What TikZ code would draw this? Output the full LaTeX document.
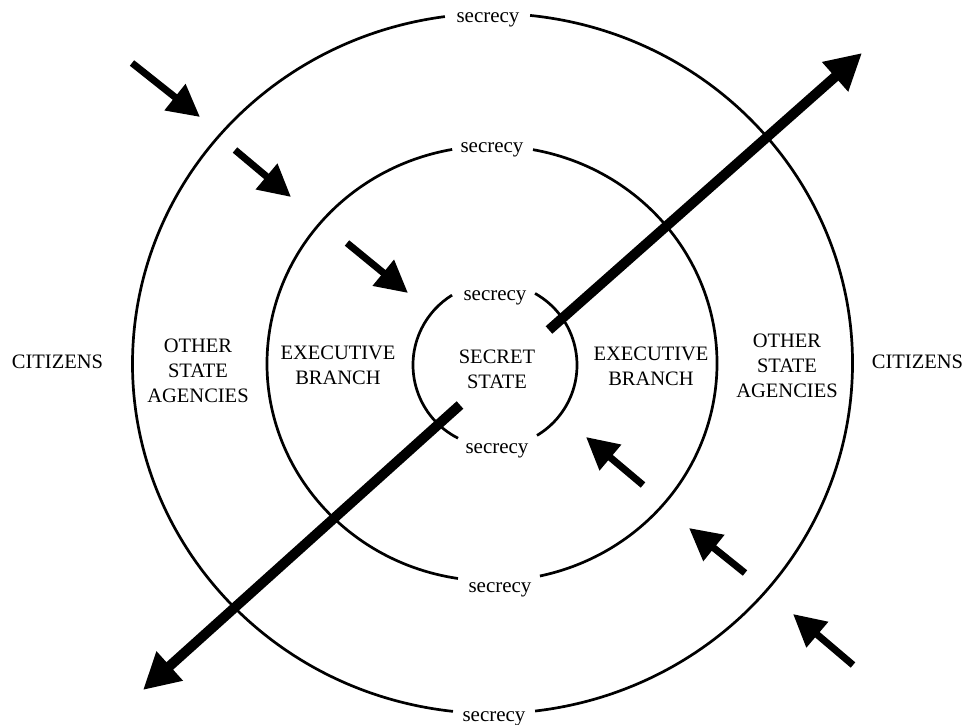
\documentclass[tikz,border=0pt]{standalone}
\usepackage{fontspec}
\setmainfont{Liberation Serif}
\usetikzlibrary{arrows.meta}
\begin{document}
\begin{tikzpicture}[x=1pt,y=-1pt,
  ring/.style={line width=2.7pt},
  lbl/.style={font=\fontsize{20.5}{25}\selectfont, align=center, inner sep=0pt},
  sec/.style={font=\fontsize{21}{25}\selectfont, inner sep=0pt, anchor=base},
  bigarrow/.style={line width=10pt, -{Triangle[length=36pt,width=37pt]}},
  smallarrow/.style={line width=7pt, -{Triangle[length=32pt,width=32pt]}}]
\useasboundingbox (0,0) rectangle (970,725);
\fill[white] (0,0) rectangle (970,725);

% centres of the three rings
\coordinate (Co) at (492.5,363.5);
\coordinate (Cm) at (492,363.5);
\coordinate (Ci) at (495,365);

% outer ring
\draw[ring] (Co) ++(276:360 and 350) arc[start angle=276, end angle=443.2, x radius=360, y radius=350];
\draw[ring] (Co) ++(96.3:360 and 350) arc[start angle=96.3, end angle=262.4, x radius=360, y radius=350];
% middle ring
\draw[ring] (Cm) ++(280.5:225 and 217.5) arc[start angle=280.5, end angle=437.7, x radius=225, y radius=217.5];
\draw[ring] (Cm) ++(98.7:225 and 217.5) arc[start angle=98.7, end angle=259.8, x radius=225, y radius=217.5];
% inner ring
\draw[ring] (Ci) ++(299.2:82 and 82) arc[start angle=299.2, end angle=419.2, x radius=82, y radius=82];
\draw[ring] (Ci) ++(116.8:82 and 82) arc[start angle=116.8, end angle=238.4, x radius=82, y radius=82];

% secrecy labels
\node[sec] (secOT) at (488,23) {secrecy};
\node[sec] (secOB) at (494,721) {secrecy};
\node[sec] (secMT) at (492,152) {secrecy};
\node[sec] (secMB) at (500,592) {secrecy};
\node[sec] (secIT) at (495,300) {secrecy};
\node[sec] (secIB) at (497,453) {secrecy};

% region labels
\node[lbl, anchor=base] (citL) at (57.5,368) {CITIZENS};
\node[lbl] (osaL) at (198,371) {OTHER\\STATE\\AGENCIES};
\node[lbl] (exL) at (338,365) {EXECUTIVE\\BRANCH};
\node[lbl] (ss) at (497,369) {SECRET\\STATE};
\node[lbl] (exR) at (651,366) {EXECUTIVE\\BRANCH};
\node[lbl] (osaR) at (787,366) {OTHER\\STATE\\AGENCIES};
\node[lbl, anchor=base] (citR) at (917.5,368) {CITIZENS};

% arrow end points
\coordinate (a1s) at (132,63);  \coordinate (a1e) at (200,117);
\coordinate (a2s) at (235,150); \coordinate (a2e) at (291,197);
\coordinate (a3s) at (347,243); \coordinate (a3e) at (408,293);
\coordinate (b1s) at (643,485); \coordinate (b1e) at (586,437);
\coordinate (b2s) at (745,573); \coordinate (b2e) at (689,528);
\coordinate (b3s) at (853,665); \coordinate (b3e) at (793,614);
\coordinate (nes) at (549,330); \coordinate (nee) at (862,53);
\coordinate (sws) at (460,405); \coordinate (swe) at (143,690);

\draw[smallarrow] (a1s) -- (a1e);
\draw[smallarrow] (a2s) -- (a2e);
\draw[smallarrow] (a3s) -- (a3e);
\draw[smallarrow] (b1s) -- (b1e);
\draw[smallarrow] (b2s) -- (b2e);
\draw[smallarrow] (b3s) -- (b3e);
\draw[bigarrow] (nes) -- (nee);
\draw[bigarrow] (sws) -- (swe);
\end{tikzpicture}
\end{document}
